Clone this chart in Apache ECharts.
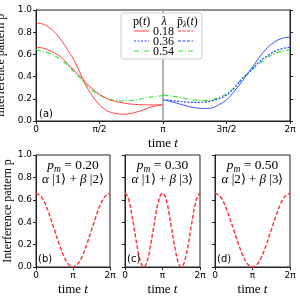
<!DOCTYPE html>
<html><head><meta charset="utf-8">
<script src="https://cdn.jsdelivr.net/npm/echarts@6/dist/echarts.min.js"></script>
<style>html,body{margin:0;padding:0;background:#fff}#c{width:300px;height:299px}</style>
</head><body><div id="c"></div>
<script>
const PI = Math.PI;
// ---- panel (a): samples at t = k*pi/16 ----
const stepsLeft  = [0,1,2,3,4,5,6,7,8,9,10,11,12,13,14,15,16];
const stepsRight = [16,17,18,19,20,21,22,23,24,25,26,27,28,29,30,31,32];
const redSolidHigh = [0.883,0.87,0.825,0.745,0.64,0.52,0.36,0.235,0.145,0.09,0.068,0.06,0.068,0.088,0.113,0.135,0.145];
const redSolidLow  = [0.665,0.655,0.625,0.585,0.515,0.44,0.37,0.295,0.24,0.20,0.175,0.163,0.152,0.148,0.145,0.145,0.145];
const greenLeft    = [0.64,0.625,0.60,0.56,0.50,0.43,0.35,0.28,0.235,0.20,0.185,0.18,0.185,0.195,0.21,0.22,0.23];
const blueSolid    = [0.19,0.175,0.155,0.135,0.12,0.113,0.115,0.145,0.19,0.27,0.36,0.46,0.56,0.65,0.71,0.745,0.755];
const blueDotted   = [0.19,0.185,0.177,0.17,0.167,0.17,0.18,0.20,0.235,0.30,0.385,0.45,0.525,0.58,0.625,0.652,0.665];
const greenRight   = [0.235,0.225,0.215,0.20,0.19,0.185,0.19,0.21,0.245,0.30,0.38,0.445,0.51,0.565,0.605,0.63,0.64];
// ---- panels (b),(d): samples at t = k*pi/8 ; panel (c): t = k*pi/16 ----
const stepsBD = [0,1,2,3,4,5,6,7,8,9,10,11,12,13,14,15,16];
const panelB  = [0.66,0.635,0.565,0.455,0.33,0.205,0.097,0.025,0,0.025,0.097,0.205,0.33,0.455,0.565,0.635,0.66];
const panelD  = [0.66,0.635,0.565,0.455,0.33,0.205,0.097,0.025,0,0.025,0.097,0.205,0.33,0.455,0.565,0.635,0.66];
const stepsC  = [0,1,2,3,4,5,6,7,8,9,10,11,12,13,14,15,16,17,18,19,20,21,22,23,24,25,26,27,28,29,30,31,32];
const panelC  = [0.66,0.635,0.565,0.455,0.33,0.205,0.097,0.025,0,0.025,0.097,0.205,0.33,0.455,0.565,0.635,0.66,
                 0.635,0.565,0.455,0.33,0.205,0.097,0.025,0,0.025,0.097,0.205,0.33,0.455,0.565,0.635,0.66];
// ---- labels ----
const xTicksA = ['0','π/2','π','3π/2','2π'];
const xTicksB = ['0','π','2π'];
const lambdas = ['0.18','0.36','0.54'];
const pmValues = ['0.20','0.30','0.50'];
const stateKets = [['1','2'],['1','3'],['2','3']];
const panelLetters = ['(a)','(b)','(c)','(d)'];

const SERIF = 'Liberation Serif';
const SANS = 'DejaVu Sans';
const RED = '#ff3030', BLUE = '#2545ff', GREEN = '#3ae83a';

function pairs(steps, vals, div){ return steps.map((k,i)=>[k*PI/div, vals[i]]); }

const chart = echarts.init(document.getElementById('c'), null, {renderer:'canvas'});

const grids = [
  {left:36, top:10, width:254, height:111},
  {left:36, top:155, width:74, height:112},
  {left:125, top:155, width:75, height:112},
  {left:215, top:155, width:75, height:112}
];
const axisLine = {show:true, lineStyle:{color:'#222', width:1}};
const axisTick = {show:true, inside:false, length:3, lineStyle:{color:'#222', width:1}};
const xAxes = grids.map((g,i)=>({
  type:'value', gridIndex:i, min:0, max:2*PI, interval: i===0 ? PI/2 : PI,
  axisLine, axisTick, splitLine:{show:false},
  axisLabel:{fontFamily:SANS, fontSize:9, color:'#000', margin:4,
    formatter: v => i===0 ? xTicksA[Math.round(v/(PI/2))] : xTicksB[Math.round(v/PI)]},
  name:'{r|time }{i|t}', nameLocation:'middle', nameGap: 16,
  nameTextStyle:{rich:{r:{fontFamily:SERIF,fontSize:13,color:'#000'},i:{fontFamily:SERIF,fontSize:13,fontStyle:'italic',color:'#000'}}}
}));
const yAxes = grids.map((g,i)=>({
  type:'value', gridIndex:i, min:0, max:1, interval:0.2,
  axisLine, axisTick, splitLine:{show:false},
  axisLabel:{show: i<=1, fontFamily:SANS, fontSize:9, color:'#000', margin:4, formatter: v => v.toFixed(1)},
  name: i<=1 ? 'Interference pattern p' : '', nameLocation:'middle', nameGap:18, nameRotate:90,
  nameTextStyle:{fontFamily:SERIF, fontSize:12, color:'#000'}
}));
yAxes.push({type:'value', gridIndex:0, position:'right', min:0, max:1, interval:0.2,
  axisLine, axisTick, axisLabel:{show:false}, splitLine:{show:false}});

function line(xi, data, color, type, width, extra){
  return Object.assign({type:'line', xAxisIndex:xi, yAxisIndex:xi, data, showSymbol:false, smooth:0.35,
    lineStyle:{color, width, type}, silent:true, animation:false}, extra||{});
}
const series = [
  line(0, pairs(stepsLeft, greenLeft,16), GREEN, [5,2,1,2], 1.2),
  line(0, pairs(stepsLeft, redSolidLow,16), RED, 'solid', 0.9),
  line(0, pairs(stepsLeft, redSolidHigh,16), RED, 'solid', 0.9, {
    markLine:{symbol:'none', silent:true, label:{show:false}, animation:false,
      lineStyle:{color:'#a0a0a0', width:1.6, type:'solid'}, data:[{xAxis:PI}]}}),
  line(0, pairs(stepsRight, greenRight,16), GREEN, [5,2,1,2], 1.2),
  line(0, pairs(stepsRight, blueDotted,16), BLUE, [2,1.5], 1.2),
  line(0, pairs(stepsRight, blueSolid,16), BLUE, 'solid', 0.9),
  line(1, pairs(stepsBD, panelB, 8), RED, [4,2], 1.4),
  line(2, pairs(stepsC, panelC, 16), RED, [4,2], 1.4),
  line(3, pairs(stepsBD, panelD, 8), RED, [4,2], 1.4)
];

// ---- graphic: legend, panel letters, titles ----
const G = [];
G.push({type:'rect', z:20, shape:{x:121, y:13, width:81, height:46, r:2},
  style:{fill:'rgba(255,255,255,0.85)', stroke:'#cccccc', lineWidth:1}});
const txt = (x,y,text,opt)=>Object.assign({type:'text', z:21, x, y,
  style:Object.assign({text, fontFamily:SERIF, fontSize:12, fill:'#000', verticalAlign:'middle', align:'left'}, opt||{})});
G.push(txt(133, 22, '{r|p(}{i|t}{r|)}', {rich:{r:{fontFamily:SERIF,fontSize:12},i:{fontFamily:SERIF,fontSize:12,fontStyle:'italic'}}}));
G.push(txt(164, 22, 'λ', {align:'center', fontStyle:'italic'}));
G.push(txt(177, 22, '{r|p\u0304}{s|λ}{r|(}{i|t}{r|)}', {rich:{
  r:{fontFamily:SERIF,fontSize:12}, i:{fontFamily:SERIF,fontSize:12,fontStyle:'italic'},
  s:{fontFamily:SERIF,fontSize:8,fontStyle:'italic',padding:[6,0,0,0]}}}));
const legLeft = [[RED,'solid',0.9],[BLUE,[2,1.5],1.2],[GREEN,[5,2,1,2],1.2]];
const legRight = [[RED,[3,1.5],1.2],[BLUE,[3,1.5],1.2],[GREEN,[5,2,1,2],1.2]];
lambdas.forEach((lam,i)=>{
  const y = 31 + i*10;
  G.push({type:'line', z:21, shape:{x1:134,y1:y,x2:149,y2:y}, style:{stroke:legLeft[i][0], lineWidth:legLeft[i][2], lineDash:legLeft[i][1]==='solid'?null:legLeft[i][1]}});
  G.push(txt(153, y+0.5, lam));
  G.push({type:'line', z:21, shape:{x1:178,y1:y,x2:193,y2:y}, style:{stroke:legRight[i][0], lineWidth:legRight[i][2], lineDash:legRight[i][1]}});
});
const letterPos = [[39,114],[38,259],[127,259],[217,259]];
panelLetters.forEach((l,i)=>G.push(txt(letterPos[i][0], letterPos[i][1], l, {fontFamily:SANS, fontSize:10})));
const centers = [73, 162.5, 252.5];
pmValues.forEach((pm,i)=>{
  G.push(txt(centers[i], 165, '{i|p}{s|m}{r| = '+pm+'}', {align:'center', rich:{
    i:{fontFamily:SERIF,fontSize:13.5,fontStyle:'italic'}, s:{fontFamily:SERIF,fontSize:9.5,fontStyle:'italic',padding:[8,0,0,0]},
    r:{fontFamily:SERIF,fontSize:13.5}}}));
  const k = stateKets[i];
  G.push(txt(centers[i], 180, '{i|α}{r| |'+k[0]+'\u27E9 + }{i|β}{r| |'+k[1]+'\u27E9}', {align:'center', rich:{
    i:{fontFamily:SERIF,fontSize:13,fontStyle:'italic'}, r:{fontFamily:SERIF,fontSize:13}}}));
});

chart.setOption({
  animation:false, backgroundColor:'#fff',
  grid: grids.map(g=>Object.assign({show:true, borderColor:'#222', borderWidth:1, containLabel:false, outerBoundsMode:'none'}, g)),
  xAxis: xAxes, yAxis: yAxes, series, graphic: G
});
</script></body></html>
